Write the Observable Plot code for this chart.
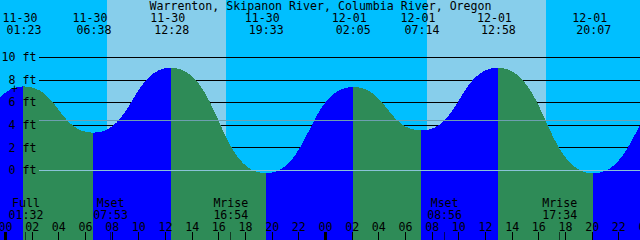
<!DOCTYPE html>
<html><head><meta charset="utf-8">
<script src="https://cdn.jsdelivr.net/npm/d3@7"></script>
<script src="https://cdn.jsdelivr.net/npm/@observablehq/plot@0.6"></script>
<style>
html,body{margin:0;padding:0;background:#fff;}
#chart svg{display:block;}
</style>
</head><body><div id="chart"></div>
<script>
const title = "Warrenton, Skipanon River, Columbia River, Oregon";
// tide extremes: hours since 11-30 00:00 and heights in ft
// (first and last are estimates just outside the visible window)
const tideHours = [-5.0, 1.383, 6.633, 12.467, 19.55, 26.083, 31.233, 36.967, 44.117, 50.7];
const tideFeet  = [-0.2, 7.4, 3.3, 9.05, -0.3, 7.35, 3.5, 9.05, -0.3, 7.3];
// labelled extremes (top)
const labelDates = ["11-30", "11-30", "11-30", "11-30", "12-01", "12-01", "12-01", "12-01"];
const labelTimes = ["01:23", "06:38", "12:28", "19:33", "02:05", "07:14", "12:58", "20:07"];
const labelHours = [1.383, 6.633, 12.467, 19.55, 26.083, 31.233, 36.967, 44.117];
// moon events (bottom)
const moonNames = ["Full", "Mset", "Mrise", "Mset", "Mrise"];
const moonTimes = ["01:32", "07:53", "16:54", "08:56", "17:34"];
const moonHours = [1.533, 7.883, 16.9, 32.933, 41.567];
// sunrise / sunset, hours since 11-30 00:00
const sunHours = [7.65, 16.575, 31.65, 40.575];
// axes
const depthTicks = [0, 2, 4, 6, 8, 10];
const depthLines = [2, 4, 6, 8, 10];
const mslFeet = 4.4;
const hourTicks = [0, 2, 4, 6, 8, 10, 12, 14, 16, 18, 20, 22, 24, 26, 28, 30, 32, 34, 36, 38, 40, 42, 44, 46, 48];
const hourLabels = ["00","02","04","06","08","10","12","14","16","18","20","22","00","02","04","06","08","10","12","14","16","18","20","22","00"];
const dayTicks = [0, 24, 48];
// a small "+" marker near the left edge
const markHours = [0.675];
const markFeet = [7.2];

const W = 640, H = 240;
const xDomain = [-0.375, 47.625];
const yDomain = [-6.195, 15.044];
const pxPerHour = W / (xDomain[1] - xDomain[0]);
const pxPerFt = H / (yDomain[1] - yDomain[0]);
const gutter = 39; // px reserved for depth labels
const lineStart = xDomain[0] + gutter / pxPerHour;

const NIGHT = "#00BFFF", DAY = "#87CEEB", FLOOD = "#0000FF", EBB = "#2E8B57";

// sky bands
const edges = [xDomain[0] - 1, ...sunHours, xDomain[1] + 1];
const bands = [];
for (let i = 0; i < edges.length - 1; i++) bands.push({a: edges[i], b: edges[i + 1], day: i % 2 === 1});

// tide segments (rising = flood, falling = ebb)
const segs = [];
for (let i = 0; i < tideHours.length - 1; i++) {
  const rising = tideFeet[i + 1] > tideFeet[i];
  segs.push({t: tideHours[i], h: tideFeet[i], seg: i, rising});
  segs.push({t: tideHours[i + 1], h: tideFeet[i + 1], seg: i, rising});
}

const labIdx = labelHours.map((_, i) => i);
const moonIdx = moonHours.map((_, i) => i);
const hourIdx = hourTicks.map((_, i) => i);
const font = {fontFamily: "DejaVu Sans Mono", fontSize: 11.6, fill: "black"};
const tickTop = yDomain[0] + 8 / pxPerFt;

const chart = Plot.plot({
  width: W, height: H,
  margin: 0,
  x: {domain: xDomain, axis: null},
  y: {domain: yDomain, axis: null},
  color: {type: "identity"},
  style: {fontFamily: "DejaVu Sans Mono", fontSize: "11.6px", background: "white"},
  marks: [
    Plot.rect(bands, {x1: "a", x2: "b", fill: d => d.day ? DAY : NIGHT, clip: true, shapeRendering: "crispEdges"}),
    Plot.ruleY(depthLines, {y: d => d, x1: lineStart, x2: xDomain[1], stroke: "black", shapeRendering: "crispEdges"}),
    Plot.area(segs, {x1: "t", y1: yDomain[0], y2: "h", z: "seg", fill: d => d.rising ? FLOOD : EBB, curve: "bump-x", clip: true, shapeRendering: "crispEdges"}),
    Plot.ruleY([mslFeet], {y: d => d, x1: lineStart, x2: xDomain[1], stroke: "#6e9fb0", shapeRendering: "crispEdges"}),
    Plot.ruleY([0], {y: d => d, x1: lineStart, x2: xDomain[1], stroke: "#8ac3d8", shapeRendering: "crispEdges"}),
    Plot.text(depthTicks, {y: d => d, text: d => d + " ft", frameAnchor: "left", dx: 36, textAnchor: "end", lineAnchor: "middle", ...font}),
    Plot.text(markHours.map((_, i) => i), {x: i => markHours[i], y: i => markFeet[i], text: () => "+", lineAnchor: "middle", ...font}),
    // title and top labels
    Plot.text([title], {text: d => d, frameAnchor: "top", lineAnchor: "bottom", dy: 9.5, ...font}),
    Plot.text(labIdx, {x: i => labelHours[i], text: i => labelDates[i], frameAnchor: "top", lineAnchor: "bottom", dy: 21.5, dx: -4, ...font}),
    Plot.text(labIdx, {x: i => labelHours[i], text: i => labelTimes[i], frameAnchor: "top", lineAnchor: "bottom", dy: 33, ...font}),
    // bottom moon labels
    Plot.text(moonIdx, {x: i => moonHours[i], text: i => moonNames[i], frameAnchor: "bottom", lineAnchor: "bottom", dy: -34, ...font}),
    Plot.text(moonIdx, {x: i => moonHours[i], text: i => moonTimes[i], frameAnchor: "bottom", lineAnchor: "bottom", dy: -21.5, ...font}),
    // hour axis
    Plot.text(hourIdx, {x: i => hourTicks[i], text: i => hourLabels[i], frameAnchor: "bottom", lineAnchor: "bottom", dy: -10, ...font}),
    Plot.ruleX(hourTicks, {x: d => d, y1: yDomain[0], y2: tickTop, stroke: "black", shapeRendering: "crispEdges"}),
    Plot.ruleX(dayTicks, {x: d => d, y1: yDomain[0], y2: tickTop, stroke: "black", strokeWidth: 3, shapeRendering: "crispEdges"}),
    Plot.ruleX(moonHours, {x: d => d, y1: yDomain[0], y2: tickTop, stroke: "black", strokeOpacity: 0.6, shapeRendering: "crispEdges"})
  ]
});
document.getElementById("chart").appendChild(chart);
</script>
</body></html>
